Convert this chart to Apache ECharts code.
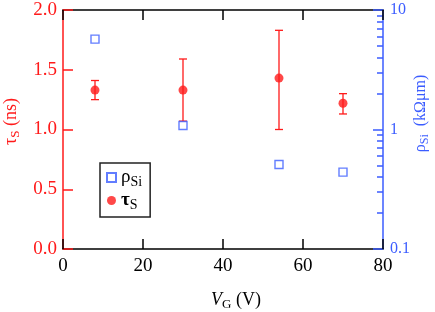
<!DOCTYPE html>
<html>
<head>
<meta charset="utf-8">
<script src="https://cdn.jsdelivr.net/npm/echarts@6/dist/echarts.min.js"></script>
<style>html,body{margin:0;padding:0;background:#fff;}#c{width:435px;height:312px;}</style>
</head>
<body>
<div id="c"></div>
<script>
// ---- data ----
const vgTau = [8, 30, 54, 70];
const tauVals = [1.33, 1.33, 1.43, 1.22];
const tauLow = [1.25, 1.07, 1.00, 1.13];
const tauHigh = [1.41, 1.59, 1.83, 1.30];
const vgRho = [8, 30, 54, 70];
const rhoVals = [5.7, 1.08, 0.51, 0.44];
const xTicks = [0, 20, 40, 60, 80];
const tauTicks = [0, 0.5, 1.0, 1.5, 2.0];
const rhoTicks = [0.1, 1, 10];
const rhoMinor = [0.2,0.3,0.4,0.5,0.6,0.7,0.8,0.9,2,3,4,5,6,7,8,9];

const RED = '#ff1a1a';
const BLUE = '#3b5cff';
const FONT = '"Liberation Serif", "DejaVu Serif", serif';

const chart = echarts.init(document.getElementById('c'), null, {renderer: 'canvas'});

const subRich = (color, fs, ss) => ({
  a: {fontFamily: FONT, fontSize: fs, color: color},
  i: {fontFamily: FONT, fontSize: fs, color: color, fontStyle: 'italic'},
  s: {fontFamily: FONT, fontSize: ss, color: color, padding: [9, 0, 0, 0]}
});

const tauData = vgTau.map((x, k) => [x, tauVals[k]]);
const errData = vgTau.map((x, k) => [x, tauLow[k], tauHigh[k]]);
const rhoData = vgRho.map((x, k) => [x, rhoVals[k]]);

const option = {
  animation: false,
  grid: {left: 63, right: 52, top: 10, bottom: 63, containLabel: false, outerBoundsMode: 'none'},
  xAxis: [{
    type: 'value', position: 'bottom', min: 0, max: 80, interval: 20,
    axisLine: {onZero: false, lineStyle: {color: '#000', width: 1.5}},
    axisTick: {inside: true, length: 10, lineStyle: {color: '#000', width: 1.5}},
    axisLabel: {color: '#000', fontFamily: FONT, fontSize: 19, margin: 8},
    splitLine: {show: false},
    name: '{i|V}{s|G}{a| (V)}', nameLocation: 'middle', nameGap: 40, nameMoveOverlap: false,
    nameTextStyle: {rich: subRich('#000', 18, 13), padding: [0, 0, 0, 26]}
  }, {
    type: 'value', position: 'top', min: 0, max: 80, interval: 20,
    axisLine: {onZero: false, lineStyle: {color: '#000', width: 1.5}},
    axisTick: {inside: true, length: 10, lineStyle: {color: '#000', width: 1.5}},
    axisLabel: {show: false}, splitLine: {show: false}
  }],
  yAxis: [{
    type: 'value', position: 'left', min: 0, max: 2, interval: 0.5,
    axisLine: {onZero: false, lineStyle: {color: RED, width: 1.5}},
    axisTick: {inside: true, length: 10, lineStyle: {color: RED, width: 1.5}},
    axisLabel: {color: RED, fontFamily: FONT, fontSize: 19, margin: 6, formatter: v => v.toFixed(1)},
    splitLine: {show: false},
    name: '{a|τ}{s|S}{a| (ns)}', nameLocation: 'middle', nameGap: 41, nameRotate: 90, nameMoveOverlap: false,
    nameTextStyle: {rich: subRich(RED, 18, 13), padding: [0, 0, 0, 16]}
  }, {
    type: 'log', logBase: 10, position: 'right', min: 0.1, max: 10,
    axisLine: {onZero: false, lineStyle: {color: BLUE, width: 1.5}},
    axisTick: {inside: true, length: 10, lineStyle: {color: BLUE, width: 1.5}},
    axisLabel: {color: BLUE, fontFamily: FONT, fontSize: 16, margin: 7, formatter: v => String(+v.toPrecision(3))},
    splitLine: {show: false},
    name: '{a|ρ}{s|Si}{a|  (kΩμm)}', nameLocation: 'middle', nameGap: 27, nameRotate: 90, nameMoveOverlap: false,
    nameTextStyle: {rich: subRich(BLUE, 16, 12), padding: [0, 0, 0, 32]}
  }, {
    type: 'log', logBase: 10, position: 'right', min: 0.1, max: 10,
    axisLine: {show: false, onZero: false},
    axisTick: {inside: true, length: 6, customValues: rhoMinor, lineStyle: {color: BLUE, width: 1.5}},
    axisLabel: {show: false}, splitLine: {show: false}
  }],
  legend: {
    left: 100, top: 163, orient: 'vertical',
    padding: [5, 8, 5, 6], itemGap: 2,
    itemWidth: 9, itemHeight: 9,
    borderColor: '#222', borderWidth: 1.5, backgroundColor: '#fff',
    data: ['rho', 'tau'],
    formatter: n => n === 'rho' ? '{g|ρ}{s|Si}' : '{b|τ}{t|S}',
    textStyle: {
      rich: {
        g: {fontFamily: FONT, fontSize: 19, color: '#000'},
        s: {fontFamily: FONT, fontSize: 14, color: '#000', padding: [9, 0, 0, 0]},
        b: {fontFamily: FONT, fontSize: 19, color: '#000', fontWeight: 'bold'},
        t: {fontFamily: FONT, fontSize: 14, color: '#000', padding: [9, 0, 0, 0]}
      }
    }
  },
  series: [{
    name: 'err', type: 'custom', xAxisIndex: 0, yAxisIndex: 0, z: 2,
    data: errData,
    renderItem: (params, api) => {
      const x = api.value(0);
      const lo = api.coord([x, api.value(1)]);
      const hi = api.coord([x, api.value(2)]);
      const w = 4;
      const st = {stroke: RED, lineWidth: 1.3};
      return {type: 'group', children: [
        {type: 'line', shape: {x1: lo[0], y1: lo[1], x2: hi[0], y2: hi[1]}, style: st},
        {type: 'line', shape: {x1: lo[0]-w, y1: lo[1], x2: lo[0]+w, y2: lo[1]}, style: st},
        {type: 'line', shape: {x1: hi[0]-w, y1: hi[1], x2: hi[0]+w, y2: hi[1]}, style: st}
      ]};
    }
  }, {
    name: 'rho', type: 'scatter', xAxisIndex: 0, yAxisIndex: 1, z: 3,
    symbol: 'rect', symbolSize: 8,
    itemStyle: {color: '#fff', borderColor: BLUE, borderWidth: 1.4},
    data: rhoData
  }, {
    name: 'tau', type: 'scatter', xAxisIndex: 0, yAxisIndex: 0, z: 4,
    symbol: 'circle', symbolSize: 9,
    itemStyle: {color: RED},
    data: tauData
  }]
};
chart.setOption(option);
</script>
</body>
</html>
